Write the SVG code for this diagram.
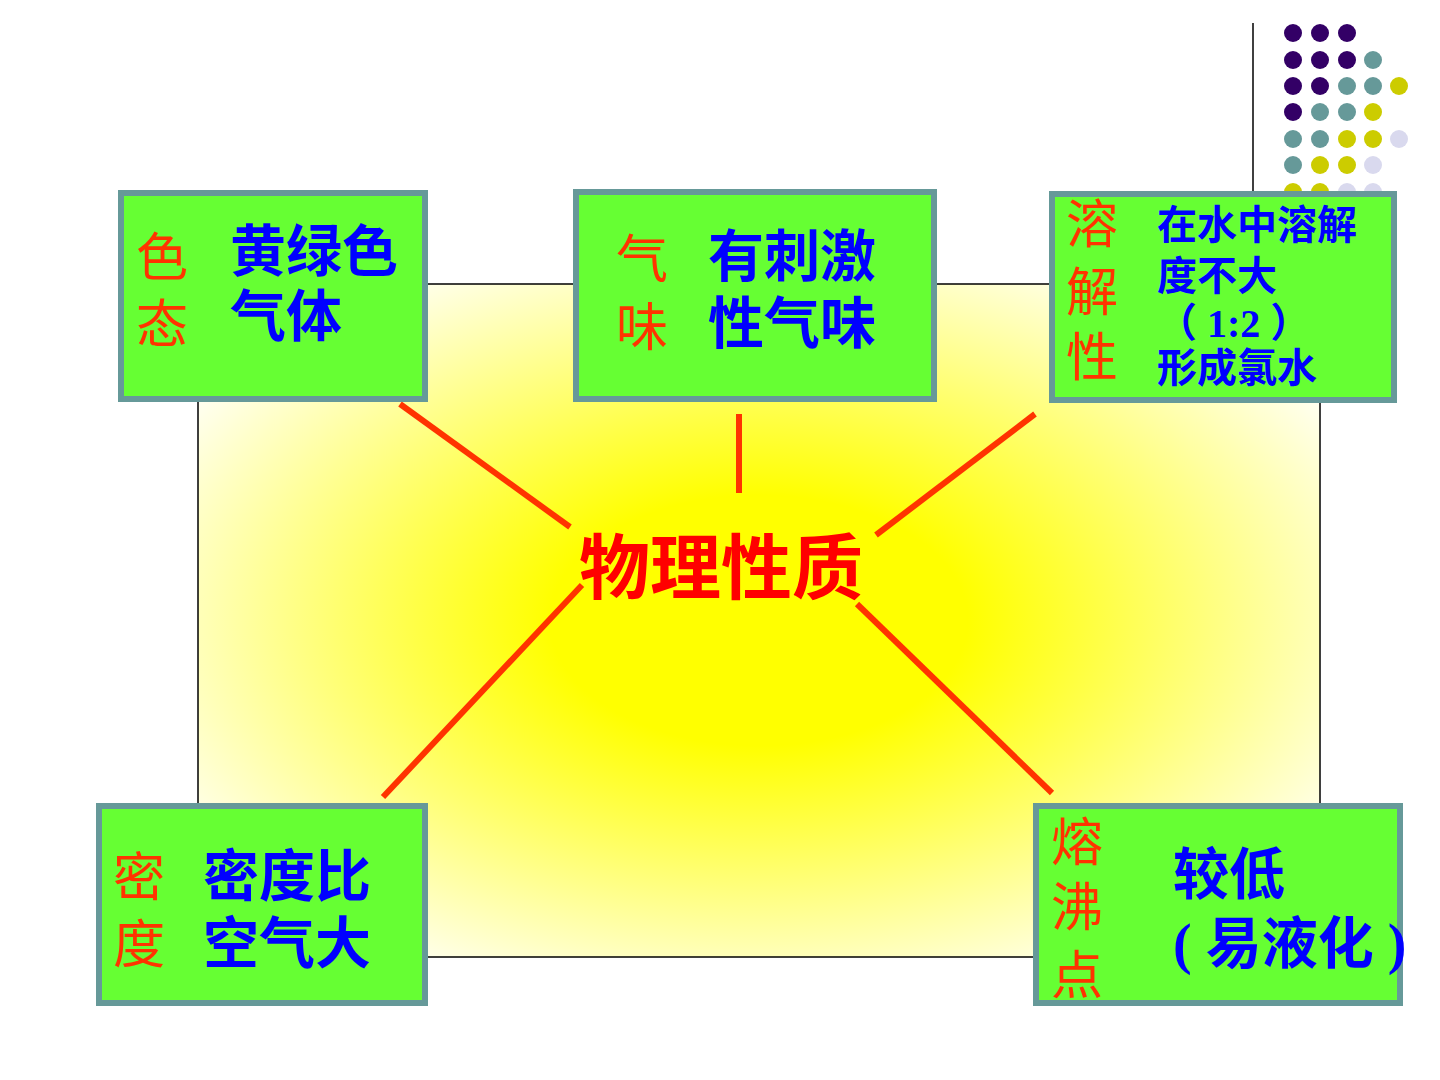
<svg xmlns="http://www.w3.org/2000/svg" width="1440" height="1080" viewBox="0 0 1440 1080">
<style>
.box{fill:#66ff33;stroke:#669999;stroke-width:6}
.lbl{font-family:"Noto Sans CJK SC",sans-serif;fill:#ff3300;font-size:52px}
.val{font-family:"Noto Sans CJK SC",sans-serif;fill:#0000ff;font-size:56px;font-weight:700}
.sm{font-size:40px}
.conn{stroke:#ff3300;stroke-width:6;fill:none}
.p{fill:#330066}.t{fill:#669999}.y{fill:#cccc00}.l{fill:#d9d9ee}
</style>
<defs>
<radialGradient id="bg" cx="0.5" cy="0.5" r="0.62">
<stop offset="0" stop-color="#ffff00"/>
<stop offset="0.3" stop-color="#ffff00"/>
<stop offset="1" stop-color="#ffffff"/>
</radialGradient>
</defs>
<rect width="1440" height="1080" fill="#ffffff"/>
<g id="decor">
<line x1="1253" y1="23" x2="1253" y2="200" stroke="#000" stroke-width="1.5"/>
<circle class="p" cx="1293" cy="33" r="9"/><circle class="p" cx="1320" cy="33" r="9"/><circle class="p" cx="1347" cy="33" r="9"/>
<circle class="p" cx="1293" cy="60" r="9"/><circle class="p" cx="1320" cy="60" r="9"/><circle class="p" cx="1347" cy="60" r="9"/><circle class="t" cx="1373" cy="60" r="9"/>
<circle class="p" cx="1293" cy="86" r="9"/><circle class="p" cx="1320" cy="86" r="9"/><circle class="t" cx="1347" cy="86" r="9"/><circle class="t" cx="1373" cy="86" r="9"/><circle class="y" cx="1399" cy="86" r="9"/>
<circle class="p" cx="1293" cy="112" r="9"/><circle class="t" cx="1320" cy="112" r="9"/><circle class="t" cx="1347" cy="112" r="9"/><circle class="y" cx="1373" cy="112" r="9"/>
<circle class="t" cx="1293" cy="139" r="9"/><circle class="t" cx="1320" cy="139" r="9"/><circle class="y" cx="1347" cy="139" r="9"/><circle class="y" cx="1373" cy="139" r="9"/><circle class="l" cx="1399" cy="139" r="9"/>
<circle class="t" cx="1293" cy="165" r="9"/><circle class="y" cx="1320" cy="165" r="9"/><circle class="y" cx="1347" cy="165" r="9"/><circle class="l" cx="1373" cy="165" r="9"/>
<circle class="y" cx="1293" cy="192" r="9"/><circle class="y" cx="1320" cy="192" r="9"/><circle class="l" cx="1347" cy="192" r="9"/><circle class="l" cx="1373" cy="192" r="9"/>
</g>
<g id="background">
<rect x="198" y="284" width="1122" height="673" fill="url(#bg)" stroke="#000" stroke-width="1.5"/>
</g>
<g id="connectors">
<line class="conn" x1="400" y1="404" x2="570" y2="527"/>
<line class="conn" x1="739" y1="414" x2="739" y2="493"/>
<line class="conn" x1="1035" y1="414" x2="876" y2="535"/>
<line class="conn" x1="582" y1="585" x2="383" y2="797"/>
<line class="conn" x1="857" y1="604" x2="1052" y2="793"/>
</g>
<g id="center">
<text x="721" y="593" text-anchor="middle" font-family="Noto Sans CJK SC, sans-serif" font-weight="700" font-size="71" fill="#ff0000">物理性质</text>
</g>
<g id="node-color">
<rect class="box" x="121" y="193" width="304" height="206"/>
<text class="lbl"><tspan x="136" y="276">色</tspan><tspan x="136" y="343">态</tspan></text>
<text class="val"><tspan x="230" y="271">黄绿色</tspan><tspan x="230" y="336">气体</tspan></text>
</g>
<g id="node-smell">
<rect class="box" x="576" y="192" width="358" height="207"/>
<text class="lbl"><tspan x="616" y="278">气</tspan><tspan x="616" y="346">味</tspan></text>
<text class="val"><tspan x="708" y="276">有刺激</tspan><tspan x="708" y="343">性气味</tspan></text>
</g>
<g id="node-solubility">
<rect class="box" x="1052" y="194" width="342" height="206"/>
<text class="lbl" font-size="56"><tspan x="1066" y="243">溶</tspan><tspan x="1066" y="311">解</tspan><tspan x="1066" y="376">性</tspan></text>
<text class="val sm"><tspan x="1157" y="239">在水中溶解</tspan><tspan x="1157" y="290">度不大</tspan><tspan x="1157" y="337" font-family="Liberation Serif, Noto Sans CJK SC, serif">（ 1:2 ）</tspan><tspan x="1157" y="382">形成氯水</tspan></text>
</g>
<g id="node-density">
<rect class="box" x="99" y="806" width="326" height="197"/>
<text class="lbl"><tspan x="113" y="896">密</tspan><tspan x="113" y="963">度</tspan></text>
<text class="val"><tspan x="203" y="896">密度比</tspan><tspan x="203" y="963">空气大</tspan></text>
</g>
<g id="node-boiling">
<rect class="box" x="1036" y="806" width="364" height="197"/>
<text class="lbl"><tspan x="1051" y="861">熔</tspan><tspan x="1051" y="926">沸</tspan><tspan x="1051" y="994">点</tspan></text>
<text class="val"><tspan x="1173" y="894">较低</tspan><tspan x="1173" y="963" font-family="Liberation Serif, Noto Sans CJK SC, serif">( 易液化 )</tspan></text>
</g>
</svg>
